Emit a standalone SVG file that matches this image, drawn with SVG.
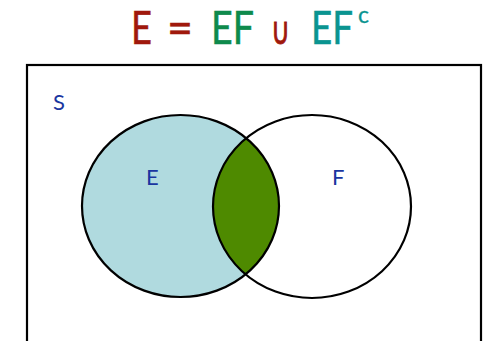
<svg xmlns="http://www.w3.org/2000/svg" width="483" height="341" viewBox="0 0 483 341">
<style>
.t{font-family:Lato,"Open Sans","Liberation Sans",sans-serif;font-size:46px;stroke-width:0.5}
.red{fill:#a0180c;stroke:#a0180c}.grn{fill:#0e8a4c;stroke:#0e8a4c}.teal{fill:#0a9490;stroke:#0a9490}
.lbl{font-family:Lato,"Open Sans","Liberation Sans",sans-serif;font-size:22px;fill:#1a35a0}
.c{stroke:#000;stroke-width:2.2}
</style>
<defs>
<clipPath id="clipE"><ellipse cx="180.5" cy="206" rx="98.5" ry="91"/></clipPath>
</defs>
<g id="title">
<text class="t red" x="131" y="44" textLength="21" lengthAdjust="spacingAndGlyphs">E</text>
<text class="t red" x="167" y="44" textLength="26" lengthAdjust="spacingAndGlyphs">=</text>
<text class="t grn" x="211" y="44" textLength="43" lengthAdjust="spacingAndGlyphs">EF</text>
<text class="red" x="271" y="44" font-family="'DejaVu Sans',sans-serif" font-size="38" stroke="none" textLength="19" lengthAdjust="spacingAndGlyphs">∪</text>
<text class="t teal" x="311" y="44" textLength="42" lengthAdjust="spacingAndGlyphs">EF</text>
<text class="teal" x="358" y="23" font-family="Lato,'Open Sans',sans-serif" font-size="23" stroke-width="0.3">c</text>
</g>
<g id="S">
<rect x="27" y="65" width="454" height="290" fill="#fff" stroke="#000" stroke-width="2.2"/>
<text class="lbl" x="53" y="110" font-size="21">S</text>
</g>
<g id="E">
<ellipse cx="180.5" cy="206" rx="98.5" ry="91" fill="#b0dadf"/>
</g>
<g id="EF">
<ellipse cx="312" cy="206.5" rx="99" ry="91.5" fill="#4e8a00" clip-path="url(#clipE)"/>
</g>
<g id="outlines" fill="none">
<ellipse class="c" cx="180.5" cy="206" rx="98.5" ry="91"/>
<ellipse class="c" cx="312" cy="206.5" rx="99" ry="91.5"/>
</g>
<g id="labels">
<text class="lbl" x="146" y="185">E</text>
<text class="lbl" x="332" y="185">F</text>
</g>
</svg>
